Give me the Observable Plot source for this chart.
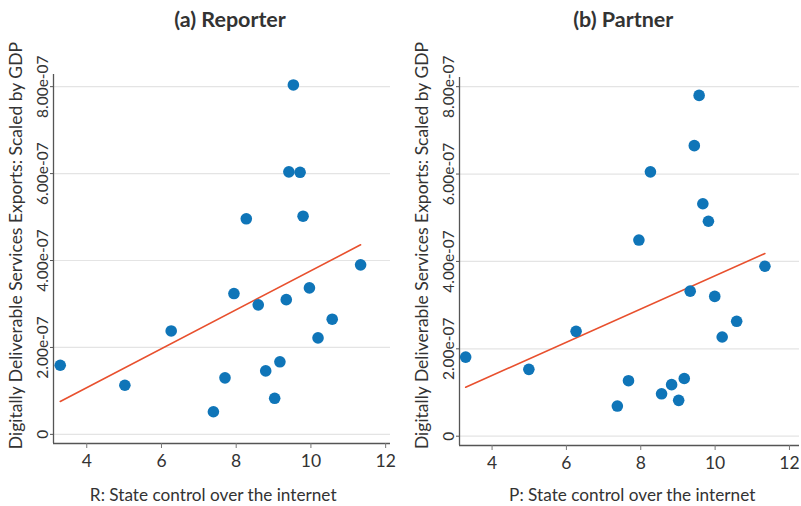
<!DOCTYPE html>
<html><head><meta charset="utf-8">
<script src="https://cdn.jsdelivr.net/npm/d3@7"></script>
<script src="https://cdn.jsdelivr.net/npm/@observablehq/plot@0.6"></script>
<style>
body{margin:0;background:#fff;}
#wrap{display:flex;width:801px;height:506px;overflow:hidden;}
svg{display:block;}
</style></head><body><div id="wrap"></div>
<script>
// (a) Reporter
const reporterX = [9.53, 9.41, 9.71, 8.27, 9.79, 11.33, 7.94, 8.59, 9.34, 9.96, 10.57, 10.19, 6.26, 3.29, 5.02, 7.70, 9.17, 8.79, 9.03, 7.39];
const reporterY = [8.04e-7, 6.04e-7, 6.03e-7, 4.96e-7, 5.02e-7, 3.90e-7, 3.24e-7, 2.98e-7, 3.10e-7, 3.37e-7, 2.65e-7, 2.22e-7, 2.38e-7, 1.59e-7, 1.13e-7, 1.30e-7, 1.67e-7, 1.46e-7, 0.83e-7, 0.52e-7];
// (b) Partner
const partnerX = [9.57, 9.44, 8.26, 9.67, 9.82, 7.95, 11.34, 9.33, 9.99, 10.58, 10.19, 6.26, 3.29, 4.99, 7.67, 9.17, 8.83, 8.56, 9.02, 7.37];
const partnerY = [7.80e-7, 6.65e-7, 6.05e-7, 5.32e-7, 4.92e-7, 4.49e-7, 3.89e-7, 3.32e-7, 3.20e-7, 2.63e-7, 2.27e-7, 2.40e-7, 1.81e-7, 1.53e-7, 1.27e-7, 1.32e-7, 1.18e-7, 0.97e-7, 0.82e-7, 0.69e-7];

const xTicks = [4, 6, 8, 10, 12];
const yTicks = [0, 2e-7, 4e-7, 6e-7, 8e-7];
const titles = ["(a) Reporter", "(b) Partner"];
const xLabels = ["R: State control over the internet", "P: State control over the internet"];
const yLabel = "Digitally Deliverable Services Exports: Scaled by GDP";

function fmt(v) { return v === 0 ? "0" : v.toExponential(2).replace(/e-(\d)$/, "e-0$1"); }

function panel(o) {
  const data = o.xs.map((x, i) => ({x, y: o.ys[i]}));
  return Plot.plot({
    width: o.width, height: 506,
    marginLeft: o.ml, marginRight: o.mr, marginTop: o.mt, marginBottom: o.mb,
    style: {fontFamily: "Lato, 'Open Sans', sans-serif", color: "#333", background: "white", overflow: "visible"},
    x: {domain: o.xdom},
    y: {domain: o.ydom},
    marks: [
      Plot.gridY(yTicks, {stroke: "#e4e4e4", strokeOpacity: 1, strokeWidth: 1.2}),
      Plot.ruleX([o.xdom[0]], {stroke: "#555", strokeWidth: 1.3}),
      Plot.ruleY([o.ydom[0]], {stroke: "#555", strokeWidth: 1.3}),
      Plot.axisX(xTicks, {tickSize: 5, tickPadding: 6, fontSize: 17.5, label: null, stroke: "#777", fill: "#333"}),
      Plot.axisY(yTicks, {tickSize: 3, tickPadding: 3, tickRotate: -90, fontSize: 15.5, tickFormat: fmt, label: null, stroke: "#555", fill: "#333"}),
      Plot.linearRegressionY(data, {x: "x", y: "y", ci: 0, stroke: "#e8502e", strokeWidth: 1.6}),
      Plot.dot(data, {x: "x", y: "y", r: 5.8, fill: "#0f75b8", stroke: null}),
      Plot.text([o.title], {frameAnchor: "top-left", dx: o.tdx, dy: 20 - o.mt, fontSize: 21.5, fontWeight: "bold", textAnchor: "middle", lineAnchor: "middle", fill: "#333"}),
      Plot.text([o.xlabel], {frameAnchor: "bottom-left", dx: o.xdx, dy: o.xdy, fontSize: 17.2, textAnchor: "middle", lineAnchor: "middle", fill: "#333"}),
      Plot.text([yLabel], {frameAnchor: "left", rotate: -90, dx: -37, dy: o.ydy, fontSize: 17.5, textAnchor: "middle", lineAnchor: "middle", fill: "#333"})
    ]
  });
}

const wrap = document.getElementById("wrap");
wrap.append(panel({
  xs: reporterX, ys: reporterY, title: titles[0], xlabel: xLabels[0],
  width: 400, ml: 53, mr: 10, mt: 74, mb: 63,
  xdom: [3.11, 12.13], ydom: [-0.21e-7, 8.28e-7],
  tdx: 176.5, xdx: 159.7, xdy: 51.6, ydy: -13.4
}));
wrap.append(panel({
  xs: partnerX, ys: partnerY, title: titles[1], xlabel: xLabels[1],
  width: 401, ml: 59, mr: 2, mt: 77, mb: 61,
  xdom: [3.124, 12.27], ydom: [-0.213e-7, 8.21e-7],
  tdx: 163.8, xdx: 172.7, xdy: 50, ydy: -16
}));
</script>
</body></html>
